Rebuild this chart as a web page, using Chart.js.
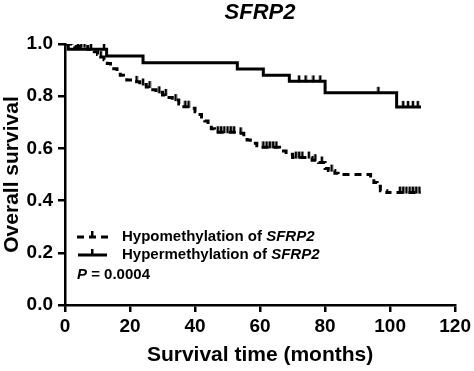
<!DOCTYPE html>
<html>
<head>
<meta charset="utf-8">
<script src="https://cdn.jsdelivr.net/npm/chart.js@4/dist/chart.umd.min.js"></script>
<style>
html,body{margin:0;padding:0;background:#fff;}
canvas{display:block;}
</style>
</head>
<body>
<canvas id="c" width="474" height="371"></canvas>
<script>
// ---- Data ----
const hypoTimes = [0, 3, 7, 9, 10, 11, 12, 13, 14, 15, 16, 17, 18, 19, 21, 23, 25, 27, 28, 30, 32, 33, 35, 36, 39, 40, 41, 42, 43, 44, 45, 46, 53, 55, 56, 57, 59, 60, 66, 68, 70, 76, 78, 80, 81, 83, 84, 94, 95, 96, 97, 99, 109.5];
const hypoSurv  = [1.0, 0.99, 0.98, 0.97, 0.96, 0.95, 0.94, 0.925, 0.915, 0.905, 0.89, 0.88, 0.87, 0.862, 0.855, 0.845, 0.835, 0.825, 0.815, 0.805, 0.795, 0.785, 0.77, 0.76, 0.754, 0.74, 0.73, 0.72, 0.705, 0.69, 0.675, 0.662, 0.658, 0.645, 0.632, 0.62, 0.61, 0.604, 0.59, 0.578, 0.565, 0.555, 0.546, 0.523, 0.515, 0.505, 0.5, 0.485, 0.469, 0.455, 0.438, 0.431, 0.431];
const hypoCensor = [1, 2, 4, 5, 6, 8, 11, 22, 24, 26, 29, 31, 34, 37, 38, 47, 48, 49, 50, 51, 52, 54, 61, 62, 63, 64, 65, 71, 72, 73, 75, 77, 79, 82, 103, 104, 105, 106, 107, 108, 109];

const hyperTimes = [0, 1, 12.8, 24, 53, 61, 69, 80, 102, 109.5];
const hyperSurv  = [1.0, 0.98, 0.954, 0.928, 0.904, 0.88, 0.857, 0.813, 0.759, 0.759];
const hyperCensor = [12, 72, 74, 76.4, 78.5, 96.4, 104, 105.5, 107, 108.5];

const xTickValues = [0, 20, 40, 60, 80, 100, 120];
const yTickValues = [0.0, 0.2, 0.4, 0.6, 0.8, 1.0];

const FONT = "'Liberation Sans', Arial, Helvetica, sans-serif";

function survAt(times, surv, t) {
  let s = surv[0];
  for (let i = 0; i < times.length; i++) if (times[i] <= t) s = surv[i];
  return s;
}
function curve(times, surv) { return times.map((t, i) => ({x: t, y: surv[i]})); }
function censorPts(ct, times, surv) { return ct.map(t => ({x: t, y: survAt(times, surv, t)})); }

// Upward tick mark used for censored observations
function tickCanvas() {
  const c = document.createElement('canvas');
  c.width = 4; c.height = 14;
  const g = c.getContext('2d');
  g.fillStyle = '#000';
  g.fillRect(0.75, 1, 2.5, 7);
  return c;
}
const tickImg = tickCanvas();

const overlay = {
  id: 'overlay',
  afterDraw(chart) {
    const ctx = chart.ctx;
    const a = chart.chartArea;
    ctx.save();
    // Title
    ctx.fillStyle = '#000';
    ctx.textAlign = 'center';
    ctx.textBaseline = 'middle';
    ctx.font = `italic bold 22px ${FONT}`;
    ctx.fillText('SFRP2', (a.left + a.right) / 2, 13);

    // Legend
    ctx.strokeStyle = '#000';
    ctx.lineWidth = 3;
    ctx.setLineDash([7, 5]);
    ctx.beginPath(); ctx.moveTo(77, 237); ctx.lineTo(110, 237); ctx.stroke();
    ctx.setLineDash([]);
    ctx.fillRect(91, 231, 2.5, 6);
    ctx.beginPath(); ctx.moveTo(78, 255); ctx.lineTo(107, 255); ctx.stroke();
    ctx.fillRect(91, 249, 2.5, 6);

    ctx.textAlign = 'left';
    const rows = [['Hypomethylation of ', 237], ['Hypermethylation of ', 255]];
    rows.forEach(([txt, y]) => {
      ctx.font = `bold 15px ${FONT}`;
      ctx.fillText(txt, 122, y);
      const w = ctx.measureText(txt).width;
      ctx.font = `italic bold 15px ${FONT}`;
      ctx.fillText('SFRP2', 122 + w, y);
    });
    ctx.font = `italic bold 15px ${FONT}`;
    ctx.fillText('P', 77, 275);
    const pw = ctx.measureText('P').width;
    ctx.font = `bold 15px ${FONT}`;
    ctx.fillText(' = 0.0004', 77 + pw, 275);
    ctx.restore();
  }
};

new Chart(document.getElementById('c'), {
  type: 'line',
  data: {
    datasets: [
      { label: 'Hypomethylation of SFRP2', data: curve(hypoTimes, hypoSurv), stepped: 'before',
        borderColor: '#000', borderWidth: 3, borderDash: [7, 5], pointRadius: 0, fill: false },
      { label: 'Hypermethylation of SFRP2', data: curve(hyperTimes, hyperSurv), stepped: 'before',
        borderColor: '#000', borderWidth: 3, pointRadius: 0, fill: false },
      { type: 'scatter', label: 'hypo censored', data: censorPts(hypoCensor, hypoTimes, hypoSurv),
        pointStyle: tickImg, showLine: false },
      { type: 'scatter', label: 'hyper censored', data: censorPts(hyperCensor, hyperTimes, hyperSurv),
        pointStyle: tickImg, showLine: false }
    ]
  },
  options: {
    responsive: false,
    animation: false,
    layout: { padding: { top: 44, right: 17, bottom: 3, left: 0 } },
    plugins: { legend: { display: false }, tooltip: { enabled: false }, title: { display: false } },
    scales: {
      x: {
        type: 'linear', min: 0, max: 120,
        afterBuildTicks(s) { s.ticks = xTickValues.map(v => ({value: v})); },
        ticks: { color: '#000', padding: 3, maxRotation: 0, font: { family: FONT, size: 19, weight: 'bold' } },
        grid: { display: true, drawOnChartArea: false, drawTicks: true, tickLength: 7, color: '#000', lineWidth: 2.5 },
        border: { display: true, color: '#000', width: 2.5 },
        title: { display: true, text: 'Survival time (months)', color: '#000', padding: 0,
                 font: { family: FONT, size: 21, weight: 'bold' } },
        afterFit(s) { s.height = 371 - 305 - 3; }
      },
      y: {
        type: 'linear', min: 0, max: 1,
        afterBuildTicks(s) { s.ticks = yTickValues.map(v => ({value: v})); },
        ticks: { color: '#000', padding: 5, callback: v => v.toFixed(1), font: { family: FONT, size: 19, weight: 'bold' } },
        grid: { display: true, drawOnChartArea: false, drawTicks: true, tickLength: 7, color: '#000', lineWidth: 2.5 },
        border: { display: true, color: '#000', width: 2.5 },
        title: { display: true, text: 'Overall survival', color: '#000', padding: 0,
                 font: { family: FONT, size: 21, weight: 'bold' } },
        afterFit(s) { s.width = 65; }
      }
    }
  },
  plugins: [overlay]
});
</script>
</body>
</html>
